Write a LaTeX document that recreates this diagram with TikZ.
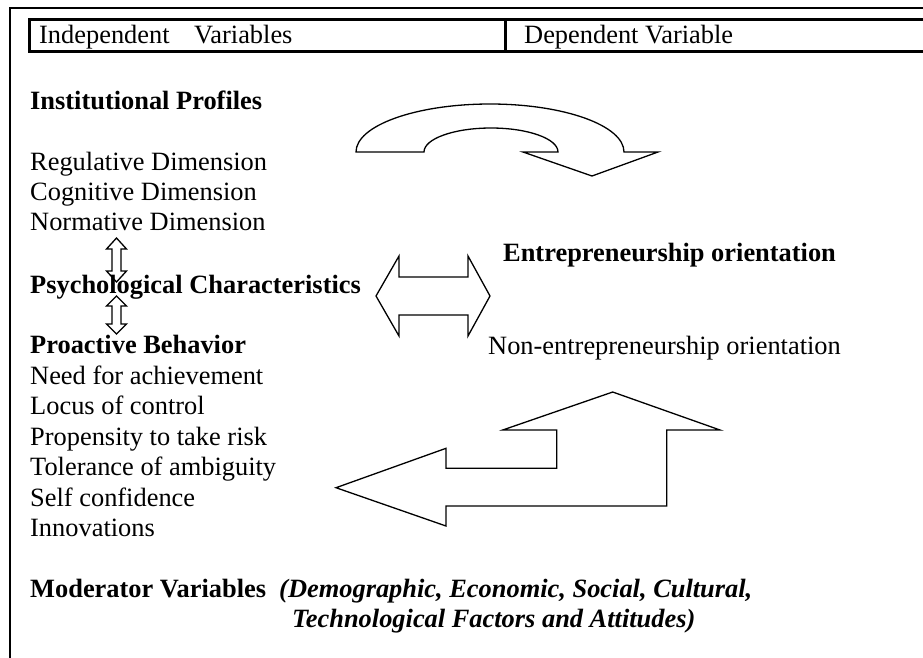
\documentclass[tikz,border=0pt]{standalone}
\usepackage{fontspec}
\setmainfont{Liberation Serif}
\usepackage{tikz}

\begin{document}
\begin{tikzpicture}[x=1pt, y=-1pt, every node/.style={inner sep=0pt, anchor=base west, font=\fontsize{26.4}{30}\selectfont}, head/.style={font=\fontsize{26.4}{30}\selectfont\bfseries}, blockarrow/.style={draw, line width=1.3pt, line join=miter}]
        \useasboundingbox (0,0) rectangle (923,657);
        \clip (0,0) rectangle (923,657);
        \draw[line width=1.2pt] (10,670) |- (935,8);
        \draw[line width=3pt] (935,19) -| (29,51) -- (935,51);
        \draw[line width=3pt] (505,19) -- (505,51);
        \node (iv) at (39,43) {Independent\hspace{0.93em}Variables};
        \node (dv) at (524,43) {Dependent Variable};

        \node[head] (ip) at (30,109) {Institutional Profiles};
        \node (reg) at (30,170) {Regulative Dimension};
        \node (cog) at (30,200) {Cognitive Dimension};
        \node (nor) at (30,230) {Normative Dimension};
        \node[head] (pc) at (30,293) {Psychological Characteristics};
        \node[head] (pb) at (30,353) {Proactive Behavior};
        \node (ach) at (30,384) {Need for achievement};
        \node (loc) at (30,414) {Locus of control};
        \node (risk) at (30,445) {Propensity to take risk};
        \node (amb) at (30,475) {Tolerance of ambiguity};
        \node (conf) at (30,506) {Self confidence};
        \node (inno) at (30,536) {Innovations};
        \node[head] (mv) at (30,597) {Moderator Variables\hspace{0.5em}\itshape(Demographic, Economic, Social, Cultural,};
        \node[head] (mv2) at (292,627) {\itshape Technological Factors and Attitudes)};

        \node[head] (eo) at (503,261) {Entrepreneurship orientation};
        \node (neo) at (488,354) {Non-entrepreneurship orientation};

        \draw[blockarrow] (356,152) -- (424,152) .. controls (424,138.7) and (454,128) .. (491,128) .. controls (528,128) and (558,138.7) .. (558,152) -- (523,152) -- (592,176) -- (658,152) -- (624,152) .. controls (624,125.5) and (564,104) .. (490,104) .. controls (416,104) and (356,125.5) .. (356,152) -- cycle;

        \draw[blockarrow] (116.5,238) -- (126.5,249) -- (121,249) -- (121,271) -- (126.5,271) -- (116.5,282) -- (106.5,271) -- (112,271) -- (112,249) -- (106.5,249) -- cycle;
        \draw[blockarrow] (116.5,296) -- (126.5,306) -- (121,306) -- (121,324) -- (126.5,324) -- (116.5,334) -- (106.5,324) -- (112,324) -- (112,306) -- (106.5,306) -- cycle;

        \draw[blockarrow] (376,296) -- (399,256) -- (399,277) -- (468,277) -- (468,256) -- (490,296) -- (468,336) -- (468,315) -- (399,315) -- (399,336) -- cycle;

        \draw[blockarrow] (612.7,392) -- (720,430) -- (666.7,430) -- (666.7,506) -- (446,506) -- (446,526) -- (336,487.7) -- (446,448.3) -- (446,468.3) -- (556.7,468.3) -- (556.7,430) -- (502.7,430) -- cycle;
    \end{tikzpicture}
\end{document}
